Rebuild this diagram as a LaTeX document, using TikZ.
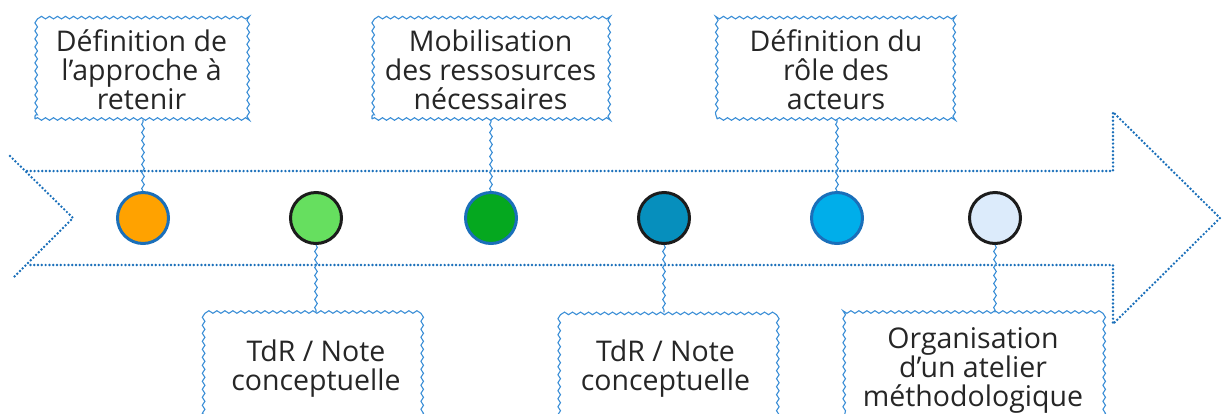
\documentclass[tikz,border=0pt]{standalone}
\usepackage{fontspec}
\setmainfont{Open Sans}
\usetikzlibrary{decorations.pathmorphing}
\definecolor{dotblue}{HTML}{1A6FBA}
\definecolor{wavyblue}{HTML}{3A8ED6}
\definecolor{txt}{HTML}{262626}
\definecolor{ringblue}{HTML}{1A6FBA}
\definecolor{ringdark}{HTML}{1C1C1C}
\definecolor{cOrange}{HTML}{FFA200}
\definecolor{cLightGreen}{HTML}{66DF5F}
\definecolor{cGreen}{HTML}{05A81F}
\definecolor{cTeal}{HTML}{068FBD}
\definecolor{cSky}{HTML}{00AEEA}
\definecolor{cPale}{HTML}{DCEBFB}
\tikzset{
  dotline/.style={dotblue, line width=2.7pt, line cap=round, dash pattern=on 0pt off 3.8pt},
  wavy/.style={wavyblue, line width=1.1pt, decorate,
    decoration={snake, amplitude=1.3pt, segment length=8pt}},
  frame/.style={wavy, draw, inner sep=0pt},
  labeltext/.style={text=txt, align=center,
    font=\fontsize{28.5}{29}\selectfont, inner sep=0pt},
  milestone/.style={circle, line width=3pt, minimum size=51pt, inner sep=0pt},
  link/.style={wavy}
}
\begin{document}
\begin{tikzpicture}[x=1pt, y=-1pt]
\useasboundingbox (0,0) rectangle (1228,413);
\clip (0,0) rectangle (1228,413);

% the dotted timeline arrow
\coordinate (tailTop) at (10,156);
\coordinate (notch) at (73,218);
\coordinate (tailBot) at (12,279);
\draw[dotline] (tailTop) -- (notch) -- (tailBot);
\draw[dotline] (27,171) -- (1113,171) -- (1113,112) -- (1220,218)
  -- (1113,324) -- (1113,265) -- (27,265);

% milestones
\node[milestone, draw=ringblue, fill=cOrange]     (m1) at (143,218) {};
\node[milestone, draw=ringdark, fill=cLightGreen] (m2) at (316,218) {};
\node[milestone, draw=ringblue, fill=cGreen]      (m3) at (491,218) {};
\node[milestone, draw=ringdark, fill=cTeal]       (m4) at (664,218) {};
\node[milestone, draw=ringblue, fill=cSky]        (m5) at (837,218) {};
\node[milestone, draw=ringdark, fill=cPale]       (m6) at (995,218) {};

% wavy frames of the labels
\node[frame, minimum width=213pt, minimum height=103pt] (b1) at (141.5,67.5) {};
\node[frame, minimum width=237pt, minimum height=103pt] (b3) at (490.5,67.5) {};
\node[frame, minimum width=238pt, minimum height=103pt] (b5) at (836,67.5) {};
\node[frame, minimum width=214pt, minimum height=107pt] (b2) at (316,366.5) {};
\node[frame, minimum width=215pt, minimum height=107pt] (b4) at (665.5,366.5) {};
\node[frame, minimum width=260pt, minimum height=107pt] (b6) at (973,366.5) {};

% label texts
\node[labeltext] (t1) at (141.5,70) {Définition de\\l’approche à\\retenir};
\node[labeltext] (t3) at (490.5,70) {Mobilisation\\des ressosurces\\nécessaires};
\node[labeltext] (t5) at (836,70) {Définition du\\rôle des\\acteurs};
\node[labeltext] (t2) at (316,369) {TdR / Note\\conceptuelle};
\node[labeltext] (t4) at (665.5,369) {TdR / Note\\conceptuelle};
\node[labeltext] (t6) at (973,370.5) {Organisation\\d’un atelier\\méthodologique};

% links between milestones and labels
\draw[link] (m1.north) -- (m1.north |- b1.south);
\draw[link] (m3.north) -- (m3.north |- b3.south);
\draw[link] (m5.north) -- (m5.north |- b5.south);
\draw[link] (m2.south) -- (m2.south |- b2.north);
\draw[link] (m4.south) -- (m4.south |- b4.north);
\draw[link] (m6.south) -- (m6.south |- b6.north);
\end{tikzpicture}
\end{document}
